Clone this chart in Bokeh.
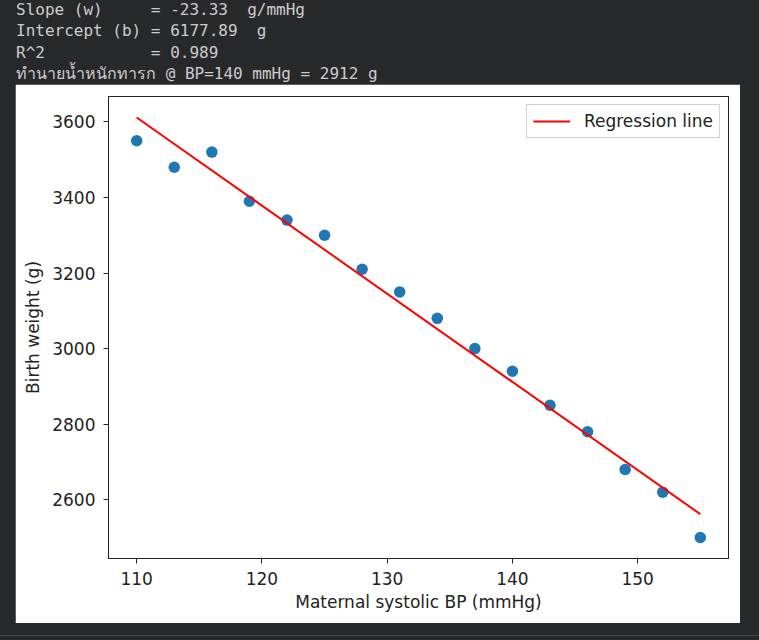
from bokeh.plotting import figure
from bokeh.layouts import column
from bokeh.models import Range1d, FixedTicker, Legend, LegendItem, Div
from bokeh.embed import file_html
from bokeh.resources import INLINE
import html

# ---- data ----
bp = [110, 113, 116, 119, 122, 125, 128, 131, 134, 137, 140, 143, 146, 149, 152, 155]
weight = [3550, 3480, 3520, 3390, 3340, 3300, 3210, 3150, 3080, 3000, 2940, 2850,
          2780, 2680, 2620, 2500]
SLOPE = -23.33
INTERCEPT = 6177.89
x_ticks = [110, 120, 130, 140, 150]
y_ticks = [2600, 2800, 3000, 3200, 3400, 3600]

text_lines = [
    "Slope (w)     = -23.33  g/mmHg",
    "Intercept (b) = 6177.89  g",
    "R^2           = 0.989",
    "ทำนายน้ำหนักทารก @ BP=140 mmHg = 2912 g",
]

DARK = "#28292b"
FONT = "DejaVu Sans"
INK = "#222222"

# ---- top text (notebook-style output) ----
inner = "".join(
    f'<div style="height:21.3px;line-height:21.3px;white-space:pre;">{html.escape(t)}</div>'
    for t in text_lines)
top = Div(text=f'<div style="position:relative;top:-1px;left:16px;">{inner}</div>',
          width=759, height=84, margin=(0, 0, 0, 0),
          styles={"background-color": DARK, "color": "#cccccc",
                  "font-family": "'DejaVu Sans Mono', monospace",
                  "font-size": "16px", "overflow": "hidden"})

# ---- main plot ----
xmin, xmax = min(bp), max(bp)
line_x = [xmin, xmax]
line_y = [INTERCEPT + SLOPE * v for v in line_x]
all_y = weight + line_y
ylo, yhi = min(all_y), max(all_y)
xm = 0.05 * (xmax - xmin)
ym = 0.05 * (yhi - ylo)

p = figure(width=725, height=539, output_backend="svg", toolbar_location=None,
           x_range=Range1d(xmin - xm, xmax + xm), y_range=Range1d(ylo - ym, yhi + ym),
           min_border_left=93, min_border_right=12, min_border_top=12,
           min_border_bottom=65, margin=(0, 0, 0, 15),
           background_fill_color="white", border_fill_color="white",
           outline_line_color=INK, outline_line_width=1)
p.grid.visible = False

sc = p.scatter(bp, weight, size=11.5, color="#1f77b4", line_color=None)
ln = p.line(line_x, line_y, line_color="red", line_width=2)

for ax in (p.xaxis[0], p.yaxis[0]):
    ax.major_label_text_font = FONT
    ax.major_label_text_font_size = "17px"
    ax.major_label_text_color = INK
    ax.axis_label_text_font = FONT
    ax.axis_label_text_font_size = "17px"
    ax.axis_label_text_font_style = "normal"
    ax.axis_label_text_color = INK
    ax.axis_line_color = INK
    ax.major_tick_line_color = INK
    ax.major_tick_in = 0
    ax.major_tick_out = 5
    ax.minor_tick_line_color = None
p.xaxis.ticker = FixedTicker(ticks=x_ticks)
p.yaxis.ticker = FixedTicker(ticks=y_ticks)
p.xaxis.axis_label = "Maternal systolic BP (mmHg)"
p.yaxis.axis_label = "Birth weight (g)"
p.xaxis.major_label_standoff = 8
p.yaxis.major_label_standoff = 8
p.xaxis.axis_label_standoff = 4
p.yaxis.axis_label_standoff = 6

legend = Legend(items=[LegendItem(label="Regression line", renderers=[ln])],
                location="top_right", margin=8, padding=6, spacing=0,
                glyph_width=37, glyph_height=20, label_standoff=14,
                label_text_font=FONT, label_text_font_size="17px",
                label_text_color=INK,
                border_line_color="#cccccc", border_line_alpha=0.9,
                background_fill_color="white", background_fill_alpha=0.8)
p.add_layout(legend)

bottom = Div(text="", width=759, height=13, margin=(0, 0, 0, 0),
             styles={"background-color": DARK, "border-bottom": "1px solid #46474a"})

layout = column(top, p, bottom, spacing=0, width=759, height=640,
                styles={"background-color": DARK})

open("out.html", "w").write(file_html(layout, INLINE))
